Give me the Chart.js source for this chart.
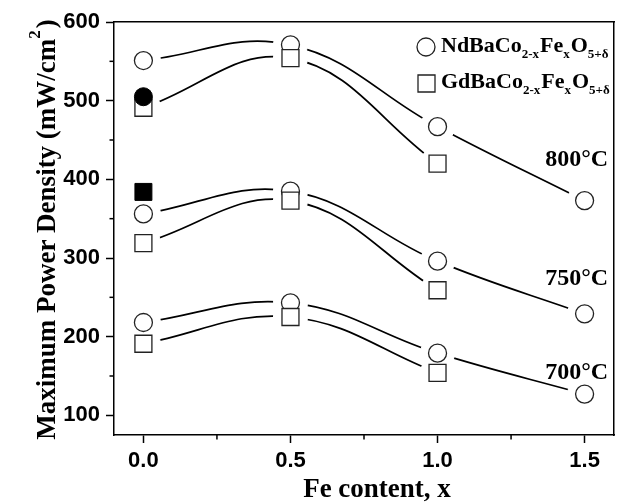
<!DOCTYPE html>
<html><head><meta charset="utf-8">
<script src="https://cdn.jsdelivr.net/npm/chart.js@4/dist/chart.umd.min.js"></script>
<style>html,body{margin:0;padding:0;background:#fff}#wrap{width:632px;height:503px;position:relative}</style>
</head><body><div id="wrap"><canvas id="c"></canvas></div>
<script>
// ---- data ----
const feContent = [0, 0.5, 1.0, 1.5];
const nd800 = [551, 571, 467, 373];
const gd800 = [491, 554, 420];
const nd750 = [356, 385, 296, 229];
const gd750 = [319, 373, 259];
const nd700 = [218, 243, 179, 127];
const gd700 = [191, 225, 154];
const filledCircleX = [0];
const filledCircle = [505];
const filledSquareX = [0];
const filledSquare = [384];
const xTicks = [0, 0.5, 1.0, 1.5];
const xMinorTicks = [0.25, 0.75, 1.25];
const yTicks = [100, 200, 300, 400, 500, 600];
const yMinorTicks = [150, 250, 350, 450, 550];
const tempLabels = ['800°C', '750°C', '700°C'];
const legendNd = [['NdBaCo',0],['2-x',1],['Fe',0],['x',1],['O',0],['5+δ',1]];
const legendGd = [['GdBaCo',0],['2-x',1],['Fe',0],['x',1],['O',0],['5+δ',1]];
const xTitle = 'Fe content, x';
const yTitleMain = 'Maximum Power Density (mW/cm';
const yTitleSup = '2';
const yTitleEnd = ')';

const pts = (ys, xs) => ys.map((y, i) => ({x: (xs || feContent)[i], y}));
const ndSeries = [nd800, nd750, nd700];
const gdSeries = [gd800, gd750, gd700];
const allSeries = ndSeries.concat(gdSeries);

const datasets = [];
allSeries.forEach(s => datasets.push({data: pts(s), showLine: true, pointRadius: 0, borderColor: '#000', borderWidth: 1.7, tension: 0.4, fill: false, order: 30}));
allSeries.forEach(s => datasets.push({data: pts(s), showLine: false, pointStyle: 'circle', pointRadius: 17, pointBackgroundColor: '#ffffff', pointBorderColor: '#ffffff', pointBorderWidth: 1, order: 20}));
ndSeries.forEach(s => datasets.push({data: pts(s), showLine: false, pointStyle: 'circle', pointRadius: 9, pointBackgroundColor: '#fff', pointBorderColor: '#222', pointBorderWidth: 1.3, order: 11}));
gdSeries.forEach(s => datasets.push({data: pts(s), showLine: false, pointStyle: 'rect', pointRadius: 12, pointBackgroundColor: '#fff', pointBorderColor: '#222', pointBorderWidth: 1.3, order: 10}));
datasets.push({data: pts(filledSquare, filledSquareX), showLine: false, pointStyle: 'rect', pointRadius: 12, pointBackgroundColor: '#000', pointBorderColor: '#000', pointBorderWidth: 1, order: 5});
datasets.push({data: pts(filledCircle, filledCircleX), showLine: false, pointStyle: 'circle', pointRadius: 9, pointBackgroundColor: '#000', pointBorderColor: '#000', pointBorderWidth: 1, order: 4});

const SERIF = '"Liberation Serif", "Times New Roman", serif';
const SANS = '"Liberation Sans", Arial, sans-serif';

function drawRich(ctx, segs, x, y, big, small, subOff) {
  let cx = x;
  segs.forEach(([t, sub]) => {
    ctx.font = 'bold ' + (sub ? small : big) + 'px ' + SERIF;
    ctx.fillText(t, cx, y + (sub ? subOff : 0));
    cx += ctx.measureText(t).width + (sub ? 1 : 0);
  });
}

const decor = {
  id: 'decor',
  afterDraw(chart) {
    const ctx = chart.ctx, xs = chart.scales.x, ys = chart.scales.y, a = chart.chartArea;
    ctx.save();
    ctx.strokeStyle = '#000'; ctx.lineWidth = 1.5;
    xMinorTicks.forEach(v => { const px = xs.getPixelForValue(v); ctx.beginPath(); ctx.moveTo(px, a.bottom); ctx.lineTo(px, a.bottom + 4.5); ctx.stroke(); });
    yMinorTicks.forEach(v => { const py = ys.getPixelForValue(v); ctx.beginPath(); ctx.moveTo(a.left, py); ctx.lineTo(a.left - 4.5, py); ctx.stroke(); });

    // temperature labels
    const anchors = [[1.58, 417], [1.58, 266], [1.58, 146]];
    ctx.fillStyle = '#000'; ctx.textAlign = 'right'; ctx.textBaseline = 'alphabetic';
    ctx.font = 'bold 24px ' + SERIF;
    anchors.forEach(([x, y], i) => ctx.fillText(tempLabels[i], xs.getPixelForValue(x), ys.getPixelForValue(y)));

    // legend
    ctx.textAlign = 'left';
    ctx.strokeStyle = '#222'; ctx.fillStyle = '#fff';
    ctx.lineWidth = 1.3;
    ctx.beginPath(); ctx.arc(426, 47, 9, 0, Math.PI * 2); ctx.fill(); ctx.stroke();
    ctx.beginPath(); ctx.rect(418, 75, 17, 17); ctx.fill(); ctx.stroke();
    ctx.fillStyle = '#000';
    drawRich(ctx, legendNd, 441, 52, 22, 13, 6);
    drawRich(ctx, legendGd, 441, 88, 22, 13, 6);

    // x title
    ctx.textAlign = 'center';
    ctx.font = 'bold 27px ' + SERIF;
    ctx.fillText(xTitle, 377, 497);

    // y title (rotated)
    ctx.translate(55, (a.top + a.bottom) / 2 + 2);
    ctx.rotate(-Math.PI / 2);
    ctx.textAlign = 'left';
    const fBig = 'bold 27px ' + SERIF, fSup = 'bold 17px ' + SERIF;
    ctx.font = fBig; const w1 = ctx.measureText(yTitleMain).width; const w3 = ctx.measureText(yTitleEnd).width;
    ctx.font = fSup; const w2 = ctx.measureText(yTitleSup).width;
    let sx = -(w1 + w2 + w3) / 2;
    ctx.font = fBig; ctx.fillText(yTitleMain, sx, 0); sx += w1;
    ctx.font = fSup; ctx.fillText(yTitleSup, sx, -15); sx += w2;
    ctx.font = fBig; ctx.fillText(yTitleEnd, sx + 2, 0);
    ctx.restore();
  }
};

const tickFont = {family: SANS, weight: 'bold', size: 22};
new Chart(document.getElementById('c'), {
  type: 'scatter',
  data: {datasets},
  options: {
    responsive: true, maintainAspectRatio: false, animation: false, events: [],
    layout: {padding: {left: 0, right: 8, top: 22, bottom: 0}},
    plugins: {legend: {display: false}, tooltip: {enabled: false}, title: {display: false}},
    scales: {
      x: {type: 'linear', position: 'bottom', min: -0.1, max: 1.6,
        afterBuildTicks: s => { s.ticks = xTicks.map(v => ({value: v})); },
        afterFit: s => { s.height = 68; },
        ticks: {callback: v => Number(v).toFixed(1), font: tickFont, color: '#000', padding: 5, maxRotation: 0, autoSkip: false},
        grid: {drawOnChartArea: false, tickLength: 8, tickColor: '#000', tickWidth: 1.5},
        border: {color: '#000', width: 1.5}},
      y: {type: 'linear', position: 'left', min: 75, max: 600,
        afterBuildTicks: s => { s.ticks = yTicks.map(v => ({value: v})); },
        afterFit: s => { s.width = 114; },
        ticks: {callback: v => String(v), font: tickFont, color: '#000', padding: 6, autoSkip: false},
        grid: {drawOnChartArea: false, tickLength: 8, tickColor: '#000', tickWidth: 1.5},
        border: {color: '#000', width: 1.5}},
      xTop: {type: 'linear', position: 'top', min: -0.1, max: 1.6, afterFit: s => { s.height = 0; },
        ticks: {display: false}, grid: {display: false, drawTicks: false}, border: {color: '#000', width: 1.5}},
      yRight: {type: 'linear', position: 'right', min: 75, max: 600, afterFit: s => { s.width = 0; },
        ticks: {display: false}, grid: {display: false, drawTicks: false}, border: {color: '#000', width: 1.5}}
    }
  },
  plugins: [decor]
});
</script></body></html>
